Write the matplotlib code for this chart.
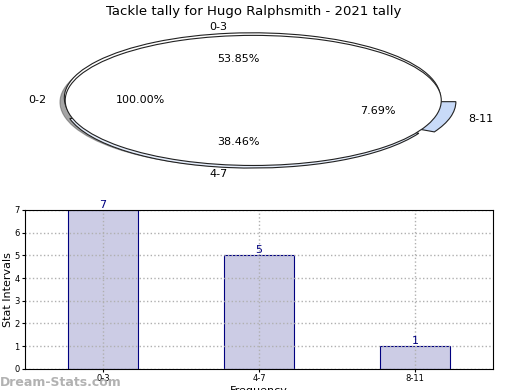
import matplotlib
matplotlib.use("Agg")
import matplotlib.pyplot as plt

# data
titulo = "Tackle tally for Hugo Ralphsmith - 2021 tally"
pie_fondo = ["0-2"]
pie_fondo_val = [1]
categorias = ["0-3", "4-7", "8-11"]
valores = [7, 5, 1]

fig = plt.figure(figsize=(5.2, 3.9), dpi=100)

# pie (squashed, drawn twice like the original)
ax1 = fig.add_axes([0.035, 0.534, 0.904, 0.417])
ax1.pie(valores, labels=categorias, autopct="%1.2f%%",
        explode=[0.04, 0.04, 0.08], startangle=0,
        colors=["white", "#e6eefc", "#c8daf8"],
        wedgeprops=dict(edgecolor="#222222", linewidth=0.8),
        textprops=dict(fontsize=8))
ax1.pie(pie_fondo_val, labels=pie_fondo, autopct="%1.2f%%", shadow=True,
        colors=["white"], wedgeprops=dict(edgecolor="#222222", linewidth=0.8),
        textprops=dict(fontsize=8))
ax1.set_aspect("auto")
ax1.set_xlim(-1.25, 1.25)
ax1.set_ylim(-1.25, 1.25)
ax1.set_title(titulo, fontsize=9.5, pad=3)

# bars
ax2 = fig.add_axes([0.048, 0.054, 0.9, 0.408])
x = list(range(len(categorias)))
ax2.bar(x, valores, width=0.45, color="#cccce5",
        edgecolor="navy", linewidth=0.8)
for xi, v in zip(x, valores):
    ax2.text(xi, v, str(v), ha="center", va="bottom", color="navy", fontsize=8)
ax2.set_xlim(-0.5, 2.5)
ax2.set_ylim(0, 7)
ax2.set_xticks(x)
ax2.set_xticklabels(categorias, fontsize=6)
ax2.set_yticks(range(0, 8))
ax2.tick_params(axis="y", labelsize=6, length=2, pad=2)
ax2.tick_params(axis="x", length=2, pad=2)
ax2.set_axisbelow(False)
ax2.grid(True, linestyle=":", color="#b0b0b0", linewidth=1)
for s in ax2.spines.values():
    s.set_zorder(5)
ax2.set_ylabel("Stat Intervals", fontsize=8)
ax2.yaxis.set_label_coords(-0.025, 0.5)
ax2.set_xlabel("Frequency", fontsize=8, labelpad=2)

fig.text(0.0, 0.01, "Dream-Stats.com", fontsize=9, fontweight="bold",
         color="#aaaaaa", alpha=0.9)

fig.savefig("out.png", dpi=100)
